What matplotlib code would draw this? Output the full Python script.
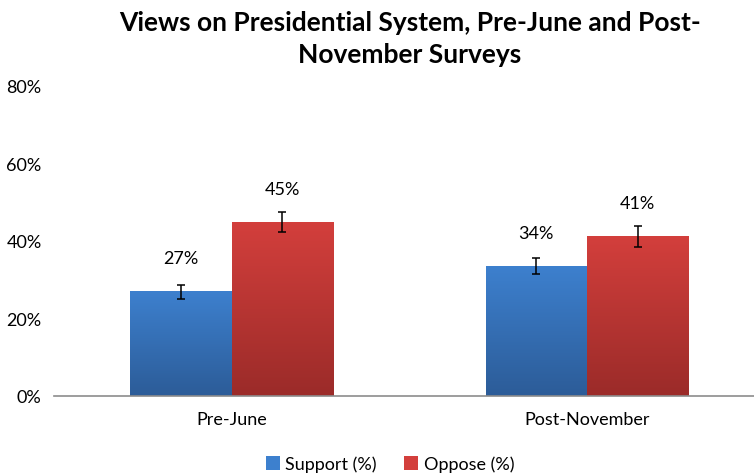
import numpy as np
import matplotlib
matplotlib.use("Agg")
import matplotlib.pyplot as plt
from matplotlib.colors import LinearSegmentedColormap
from matplotlib.patches import Patch

plt.rcParams['font.family'] = ['Lato', 'DejaVu Sans']

# data
categories = ["Pre-June", "Post-November"]
support = [26.9, 33.5]
oppose = [44.9, 41.1]
support_err = [1.8, 2.1]
oppose_err = [2.6, 2.7]
support_labels = ["27%", "34%"]
oppose_labels = ["45%", "41%"]
series_names = ["Support (%)", "Oppose (%)"]
yticks = [0, 20, 40, 60, 80]

blue_top, blue_bot = "#3d80ce", "#2c5c98"
red_top, red_bot = "#d33f3c", "#9b2b29"

fig = plt.figure(figsize=(7.54, 4.77), dpi=100)
ax = fig.add_axes([54 / 754, 80 / 477, 1 - 54 / 754, 310 / 477])

x = np.arange(len(categories))
w = 0.285

def gradient_bars(xpos, vals, top, bot):
    bars = ax.bar(xpos, vals, w, color="none", edgecolor="none", zorder=2)
    cmap = LinearSegmentedColormap.from_list("g", [bot, top])
    grad = np.linspace(0, 1, 256).reshape(-1, 1)
    for b in bars:
        x0, y0 = b.get_x(), b.get_y()
        ax.imshow(grad, cmap=cmap, aspect="auto", origin="lower",
                  extent=[x0, x0 + b.get_width(), y0, y0 + b.get_height()],
                  zorder=2)
    return bars

gradient_bars(x - w / 2, support, blue_top, blue_bot)
gradient_bars(x + w / 2, oppose, red_top, red_bot)

ax.errorbar(x - w / 2, support, yerr=support_err, fmt="none", ecolor="black",
            elinewidth=1.1, capsize=3, capthick=1.1, zorder=3)
ax.errorbar(x + w / 2, oppose, yerr=oppose_err, fmt="none", ecolor="black",
            elinewidth=1.1, capsize=3, capthick=1.1, zorder=3)

for xi, v, lab in zip(x - w / 2, support, support_labels):
    ax.annotate(lab, (xi, v), xytext=(0, 24), textcoords="offset points",
                ha="center", va="center", fontsize=13)
for xi, v, lab in zip(x + w / 2, oppose, oppose_labels):
    ax.annotate(lab, (xi, v), xytext=(0, 24), textcoords="offset points",
                ha="center", va="center", fontsize=13)

ax.set_xlim(-0.5, 1.47)
ax.set_ylim(0, 80)
ax.set_yticks(yticks)
ax.set_yticklabels([f"{t}%" for t in yticks], fontsize=13)
ax.set_xticks(x)
ax.set_xticklabels(categories, fontsize=13)
ax.tick_params(axis="both", length=0)
ax.tick_params(axis="y", pad=9)
ax.tick_params(axis="x", pad=11)
for s in ["top", "right", "left"]:
    ax.spines[s].set_visible(False)
ax.spines["bottom"].set_color("#8c8c8c")
ax.spines["bottom"].set_linewidth(1.2)

fig.text(410 / 754, 1 - 39 / 477,
         "Views on Presidential System, Pre-June and Post-\nNovember Surveys",
         ha="center", va="center", fontsize=19, fontweight="bold",
         linespacing=1.38)

handles = [Patch(facecolor=blue_top), Patch(facecolor=red_top)]
fig.legend(handles, series_names, loc="center", ncol=2,
           bbox_to_anchor=(390 / 754, 1 - 465 / 477), frameon=False,
           fontsize=13, handlelength=0.8, handleheight=0.8,
           handletextpad=0.3, columnspacing=1.5)

fig.savefig("out.png", dpi=100)
